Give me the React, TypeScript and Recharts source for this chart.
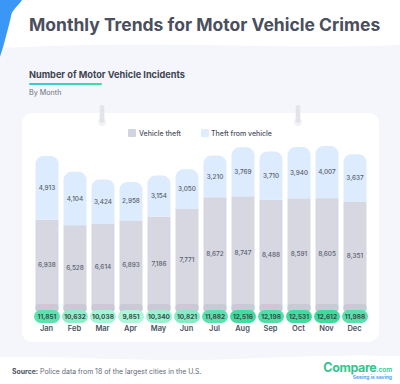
import React from "react";
import { BarChart, Bar, XAxis, YAxis, LabelList } from "recharts";

const months = ["Jan", "Feb", "Mar", "Apr", "May", "Jun", "Jul", "Aug", "Sep", "Oct", "Nov", "Dec"];
const vehicleTheft = [6938, 6528, 6614, 6893, 7186, 7771, 8672, 8747, 8488, 8591, 8605, 8351];
const theftFromVehicle = [4913, 4104, 3424, 2958, 3154, 3050, 3210, 3769, 3710, 3940, 4007, 3637];
const totals = [11851, 10632, 10038, 9851, 10340, 10821, 11882, 12516, 12198, 12531, 12612, 11988];

const data = months.map((m, i) => ({
  month: m,
  vehicle: vehicleTheft[i],
  fromVehicle: theftFromVehicle[i],
  total: totals[i],
}));

const FONT = "Inter, 'Open Sans', sans-serif";
const GRAY_BAR = "#d6d7e1";
const BLUE_BAR = "#dcebfd";
const TEXT = "#4a4f5d";

const fmt = (v: number) => v.toLocaleString("en-US");

// pill colour goes from light mint (lowest month) to deeper green (highest)
const minT = Math.min(...totals);
const maxT = Math.max(...totals);
const light = [174, 246, 218];
const dark = [62, 218, 158];
function pillColor(v: number) {
  const t = (v - minT) / (maxT - minT);
  const c = light.map((l, i) => Math.round(l + (dark[i] - l) * t));
  return `rgb(${c[0]},${c[1]},${c[2]})`;
}

function VehicleShape(props: any) {
  const { x, y, width, height } = props;
  return (
    <g>
      <rect x={x} y={y} width={width} height={height} fill={GRAY_BAR} />
      <rect x={x} y={y + height - 6} width={width} height={8} rx={3} fill="#c9cad6" />
    </g>
  );
}

function Pill(props: any) {
  const { x, y, width, height, value } = props;
  const cx = x + width / 2;
  const cy = y + height + 6.5;
  return (
    <g>
      <rect x={cx - 13} y={cy - 6.5} width={26} height={13} rx={6.5} fill={pillColor(value)} />
      <text
        x={cx}
        y={cy + 2.4}
        textAnchor="middle"
        fontFamily={FONT}
        fontSize={6.5}
        fontWeight={700}
        fill="#34504a"
      >
        {fmt(value)}
      </text>
    </g>
  );
}

function MonthTick(props: any) {
  const { x, y, payload } = props;
  return (
    <text x={x} y={y + 21} textAnchor="middle" fontFamily={FONT} fontSize={7.5} fontWeight={600} fill="#4d5261">
      {payload.value}
    </text>
  );
}

export default function App() {
  return (
    <div style={{ position: "absolute", left: 0, top: 0, width: 400, height: 384, background: "#fff", overflow: "hidden" }}>
      <svg width={400} height={384} style={{ position: "absolute", left: 0, top: 0 }}>
        <path d="M0 48 C 80 44, 140 44, 200 45 C 270 46, 330 48, 400 45 L 400 356 C 330 354, 270 358, 200 360 C 130 361, 60 356, 0 357 Z" fill="#f4f6fb" />
        <path d="M0 0 L 22 0 C 18 6, 12 10, 11 16 C 10 22, 8 28, 5 40 C 3 48, 1 53, 0 57 Z" fill="#3b97f5" />
        <rect x={22} y={113} width={357} height={229} rx={10} fill="#ffffff" />
        {[102, 298].map((px) => (
          <g key={px}>
            <circle cx={px} cy={122} r={4} fill="#f1f3f7" />
            <rect x={px - 2.3} y={105} width={4.6} height={18} rx={2.3} fill="#e2e4ea" />
          </g>
        ))}
      </svg>

      <div style={{ position: "absolute", left: 0, top: 0 }}>
        <BarChart
          width={400}
          height={384}
          data={data}
          margin={{ top: 141, right: 31.5, bottom: 44, left: 32.5 }}
          barSize={23}
        >
          <YAxis hide domain={[0, 13000]} />
          <XAxis
            dataKey="month"
            height={30}
            axisLine={false}
            tickLine={false}
            tickSize={0}
            tickMargin={0}
            interval={0}
            tick={<MonthTick />}
          />
          <Bar dataKey="vehicle" stackId="a" fill={GRAY_BAR} shape={<VehicleShape />} isAnimationActive={false}>
            <LabelList dataKey="vehicle" position="center" formatter={(v: any) => fmt(v)} fontSize={6.4} fontFamily={FONT} fontWeight={500} fill="#5a5f6d" />
            <LabelList dataKey="total" content={<Pill />} />
          </Bar>
          <Bar dataKey="fromVehicle" stackId="a" fill={BLUE_BAR} radius={[8, 8, 0, 0]} isAnimationActive={false}>
            <LabelList dataKey="fromVehicle" position="center" formatter={(v: any) => fmt(v)} fontSize={6.4} fontFamily={FONT} fontWeight={500} fill="#5a5f6d" />
          </Bar>
        </BarChart>
      </div>

      <svg width={400} height={384} style={{ position: "absolute", left: 0, top: 0, pointerEvents: "none" }}>
        <text x={29} y={31} fontFamily={FONT} fontSize={17.5} fontWeight={700} fill={TEXT}>
          Monthly Trends for Motor Vehicle Crimes
        </text>
        <text x={29} y={78} fontFamily={FONT} fontSize={9.2} fontWeight={700} fill="#3f4452">
          Number of Motor Vehicle Incidents
        </text>
        <defs>
          <linearGradient id="ul" x1="0" x2="1" y1="0" y2="0">
            <stop offset="0" stopColor="#3bc9d3" />
            <stop offset="1" stopColor="#3fdba4" />
          </linearGradient>
        </defs>
        <rect x={29} y={83} width={73} height={2} rx={1} fill="url(#ul)" />
        <text x={29} y={95} fontFamily={FONT} fontSize={7.2} fill="#6c7180">
          By Month
        </text>

        <rect x={128} y={129} width={8} height={8} rx={1} fill="#d2d4df" />
        <text x={139} y={135.6} fontFamily={FONT} fontSize={7} fontWeight={500} fill="#4d5261">
          Vehicle theft
        </text>
        <rect x={201} y={129} width={8} height={8} rx={1} fill="#ddedfe" />
        <text x={211} y={135.6} fontFamily={FONT} fontSize={7} fontWeight={500} fill="#4d5261">
          Theft from vehicle
        </text>

        <text x={12} y={374} fontFamily={FONT} fontSize={6.9} fill="#646978">
          <tspan fontWeight={700} fill="#4d5261">Source:</tspan> Police data from 18 of the largest cities in the U.S.
        </text>
        <text x={392} y={372} textAnchor="end" fontFamily={FONT} fontSize={12.5} fontWeight={700} fill="#36c58f" letterSpacing={-0.4}>
          Compare<tspan fontSize={6.5} fontWeight={600} letterSpacing={0}>.com</tspan>
        </text>
        <text x={392} y={379} textAnchor="end" fontFamily={FONT} fontSize={5} fontWeight={600} fill="#3a97f0">
          Seeing is saving
        </text>
      </svg>
    </div>
  );
}
